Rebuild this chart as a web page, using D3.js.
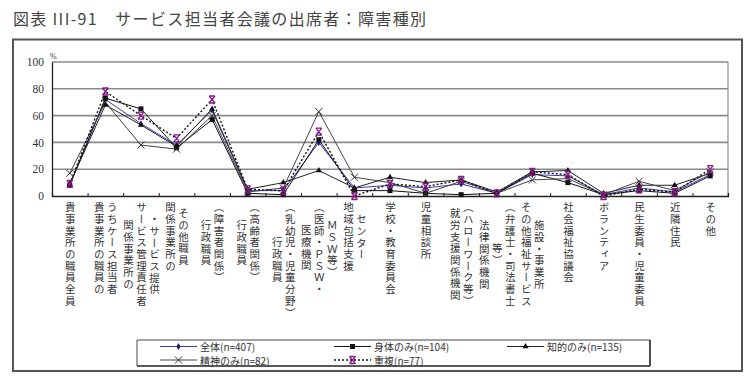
<!DOCTYPE html>
<html>
<head>
<meta charset="utf-8">
<script src="https://cdn.jsdelivr.net/npm/d3@7"></script>
<style>
  body { margin: 0; background: #fff; }
  #wrap { position: relative; width: 750px; height: 384px; }
  svg { display: block; position: absolute; left: 0; top: 0; }
  .jp { font-family: "Noto Sans CJK JP", sans-serif; }
  .num { font-family: "Liberation Serif", "DejaVu Serif", serif; }
  .xlab {
    position: absolute;
    font-family: "Noto Sans CJK JP", sans-serif;
    font-size: 10.5px;
    line-height: 12px;
    width: 12px;
    letter-spacing: 1.2px;
    color: #333;
    writing-mode: vertical-rl;
    white-space: nowrap;
  }
</style>
</head>
<body>
<div id="wrap">
<svg id="chart" width="750" height="384"></svg>
</div>
<script>
// category labels, one string per printed column (left to right)
const categories = [
  ['貴事業所の職員全員'],
  ['貴事業所の職員の', 'うちケース担当者'],
  ['関係事業所の', 'サービス管理責任者', '・サービス提供'],
  ['関係事業所の', 'その他職員'],
  ['行政職員', '（障害者関係）'],
  ['行政職員', '（高齢者関係）'],
  ['行政職員', '（乳幼児・児童分野）'],
  ['医療機関', '（医師・ＰＳＷ・', 'ＭＳＷ等）'],
  ['地域包括支援', 'センター'],
  ['学校・教育委員会'],
  ['児童相談所'],
  ['就労支援関係機関', '（ハローワーク等）'],
  ['法律関係機関', '等）', '（弁護士・司法書士'],
  ['その他福祉サービス', '施設・事業所'],
  ['社会福祉協議会'],
  ['ボランティア'],
  ['民生委員・児童委員'],
  ['近隣住民'],
  ['その他']
];

const seriesNames = ['全体(n=407)', '身体のみ(n=104)', '知的のみ(n=135)', '精神のみ(n=82)', '重複(n=77)'];
const zentai  = [9, 72, 54, 38, 64, 4, 4, 40, 6, 8, 6, 9, 2, 16, 15, 1, 6, 3, 16];
const shintai = [8, 73, 65, 36, 57, 2, 1, 42, 4, 4, 2, 1, 2, 17, 10, 1, 4, 2, 15];
const chiteki = [9, 68, 53, 37, 65, 5, 10, 19, 6, 14, 10, 12, 3, 18, 19, 2, 8, 8, 17];
const seishin = [17, 70, 38, 35, 60, 3, 6, 63, 14, 10, 2, 11, 2, 12, 13, 1, 11, 4, 18];
const chofuku = [9, 78, 60, 43, 72, 5, 4, 48, 0, 9, 7, 12, 2, 18, 16, 0, 5, 3, 20];
const yTicks = [0, 20, 40, 60, 80, 100];

const series = [
  { name: seriesNames[0], values: zentai,  color: '#3b3bb0', dash: null,  marker: 'diamond', mcolor: '#1a1a7a' },
  { name: seriesNames[1], values: shintai, color: '#111',    dash: null,  marker: 'square',  mcolor: '#111' },
  { name: seriesNames[2], values: chiteki, color: '#222',    dash: null,  marker: 'triangle', mcolor: '#111' },
  { name: seriesNames[3], values: seishin, color: '#444',    dash: null,  marker: 'cross',   mcolor: '#333' },
  { name: seriesNames[4], values: chofuku, color: '#111',    dash: '2,2', marker: 'star',    mcolor: '#8b1a8b' }
];

const svg = d3.select('#chart');
const wrap = d3.select('#wrap');
const plotLeft = 52, plotRight = 728, plotTop = 62, plotBottom = 196;

// title + frame
svg.append('text').attr('class', 'jp')
  .attr('x', 13).attr('y', 25)
  .attr('font-size', 16).attr('fill', '#444')
  .attr('textLength', 413).attr('lengthAdjust', 'spacing')
  .text('図表 III-91　サービス担当者会議の出席者：障害種別');
svg.append('rect').attr('x', 13).attr('y', 39.5).attr('width', 729).attr('height', 331.5)
  .attr('fill', 'none').attr('stroke', '#555').attr('stroke-width', 2);

const x = d3.scaleBand().domain(d3.range(categories.length)).range([plotLeft, plotRight]);
const xEdge = d3.scaleLinear().domain([0, categories.length]).range([plotLeft, plotRight]);
const y = d3.scaleLinear().domain([0, 100]).range([plotBottom, plotTop]);
const cx = i => x(i) + x.bandwidth() / 2;

const g = svg.append('g');

// gridlines
g.selectAll('.grid').data(yTicks.filter(d => d > 0)).enter().append('line')
  .attr('x1', plotLeft).attr('x2', plotRight)
  .attr('y1', d => y(d)).attr('y2', d => y(d))
  .attr('stroke', '#8a8a8a').attr('stroke-width', 1.6);
g.append('line').attr('x1', plotRight).attr('x2', plotRight).attr('y1', plotTop).attr('y2', plotBottom)
  .attr('stroke', '#8a8a8a').attr('stroke-width', 1.2);

// y axis
const yAxis = g.append('g').attr('transform', `translate(${plotLeft},0)`)
  .call(d3.axisLeft(y).tickValues(yTicks).tickSize(0).tickPadding(8));
yAxis.select('.domain').attr('stroke', '#222').attr('stroke-width', 1.3);
yAxis.selectAll('text').attr('class', 'num').attr('font-size', 11.5).attr('fill', '#333');
svg.append('text').attr('class', 'num').attr('x', plotLeft - 2).attr('y', plotTop - 3)
  .attr('font-size', 8).attr('fill', '#333').text('%');

// x axis with ticks between categories
const xAxis = g.append('g').attr('transform', `translate(0,${plotBottom})`)
  .call(d3.axisBottom(xEdge).tickValues(d3.range(1, categories.length)).tickSize(-3).tickFormat(''));
xAxis.select('.domain').attr('stroke', '#222').attr('stroke-width', 1.3);
xAxis.selectAll('.tick line').attr('stroke', '#222');

// vertical category labels (html, vertical writing mode)
const charH = 11.7, colGap = 13, labelTop = 202;
categories.forEach((cols, i) => {
  const maxLen = d3.max(cols, c => c.length);
  cols.forEach((c, j) => {
    const colX = cx(i) + (j - (cols.length - 1) / 2) * colGap;
    const start = labelTop + (maxLen - c.length) * charH / 2;
    wrap.append('div').attr('class', 'xlab')
      .style('left', (colX - 6) + 'px')
      .style('top', start + 'px')
      .text(c);
  });
});

function drawMarker(sel, type, color) {
  if (type === 'diamond') {
    sel.append('path').attr('d', d3.symbol(d3.symbolDiamond, 14)).attr('fill', color);
  } else if (type === 'square') {
    sel.append('rect').attr('x', -2.5).attr('y', -2.5).attr('width', 5).attr('height', 5).attr('fill', color);
  } else if (type === 'triangle') {
    sel.append('path').attr('d', d3.symbol(d3.symbolTriangle, 16)).attr('fill', color);
  } else if (type === 'cross') {
    sel.append('path').attr('d', 'M-3.5,-3.5L3.5,3.5M-3.5,3.5L3.5,-3.5')
      .attr('stroke', color).attr('stroke-width', 1).attr('fill', 'none');
  } else if (type === 'star') {
    sel.append('path').attr('d', 'M-3,-3.5L3,3.5M-3,3.5L3,-3.5M-3,-3.5L3,-3.5M-3,3.5L3,3.5')
      .attr('stroke', color).attr('stroke-width', 1.3).attr('fill', 'none');
  }
}

const line = d3.line().x((d, i) => cx(i)).y(d => y(d));

series.forEach(s => {
  g.append('path').datum(s.values)
    .attr('d', line)
    .attr('fill', 'none')
    .attr('stroke', s.color)
    .attr('stroke-width', s.dash ? 1.4 : 1)
    .attr('stroke-dasharray', s.dash);
});
series.forEach(s => {
  g.selectAll(null).data(s.values).enter().append('g')
    .attr('transform', (d, i) => `translate(${cx(i)},${y(d)})`)
    .each(function() { drawMarker(d3.select(this), s.marker, s.mcolor); });
});

// legend
const lg = svg.append('g');
lg.append('line').attr('x1', 137).attr('x2', 650).attr('y1', 340).attr('y2', 340).attr('stroke', '#444').attr('stroke-width', 1);
lg.append('line').attr('x1', 137).attr('x2', 650).attr('y1', 366).attr('y2', 366).attr('stroke', '#222').attr('stroke-width', 1.6);
lg.append('line').attr('x1', 137).attr('x2', 137).attr('y1', 340).attr('y2', 366).attr('stroke', '#444').attr('stroke-width', 1);
lg.append('line').attr('x1', 650).attr('x2', 650).attr('y1', 340).attr('y2', 366).attr('stroke', '#222').attr('stroke-width', 1.6);

const legendPos = [[160, 346.5], [334, 346.5], [507, 346.5], [160, 360], [334, 360]];
series.forEach((s, i) => {
  const [lx, ly] = legendPos[i];
  const item = lg.append('g').attr('transform', `translate(${lx},${ly})`);
  item.append('line').attr('x1', 0).attr('x2', 37).attr('y1', 0).attr('y2', 0)
    .attr('stroke', s.color).attr('stroke-width', s.dash ? 1.4 : 1)
    .attr('stroke-dasharray', s.dash);
  drawMarker(item.append('g').attr('transform', 'translate(18.5,0)'), s.marker, s.mcolor);
  item.append('text').attr('class', 'jp').attr('x', 40).attr('y', 0)
    .attr('dominant-baseline', 'central')
    .attr('font-size', 10).attr('fill', '#333').text(s.name);
});
</script>
</body>
</html>
